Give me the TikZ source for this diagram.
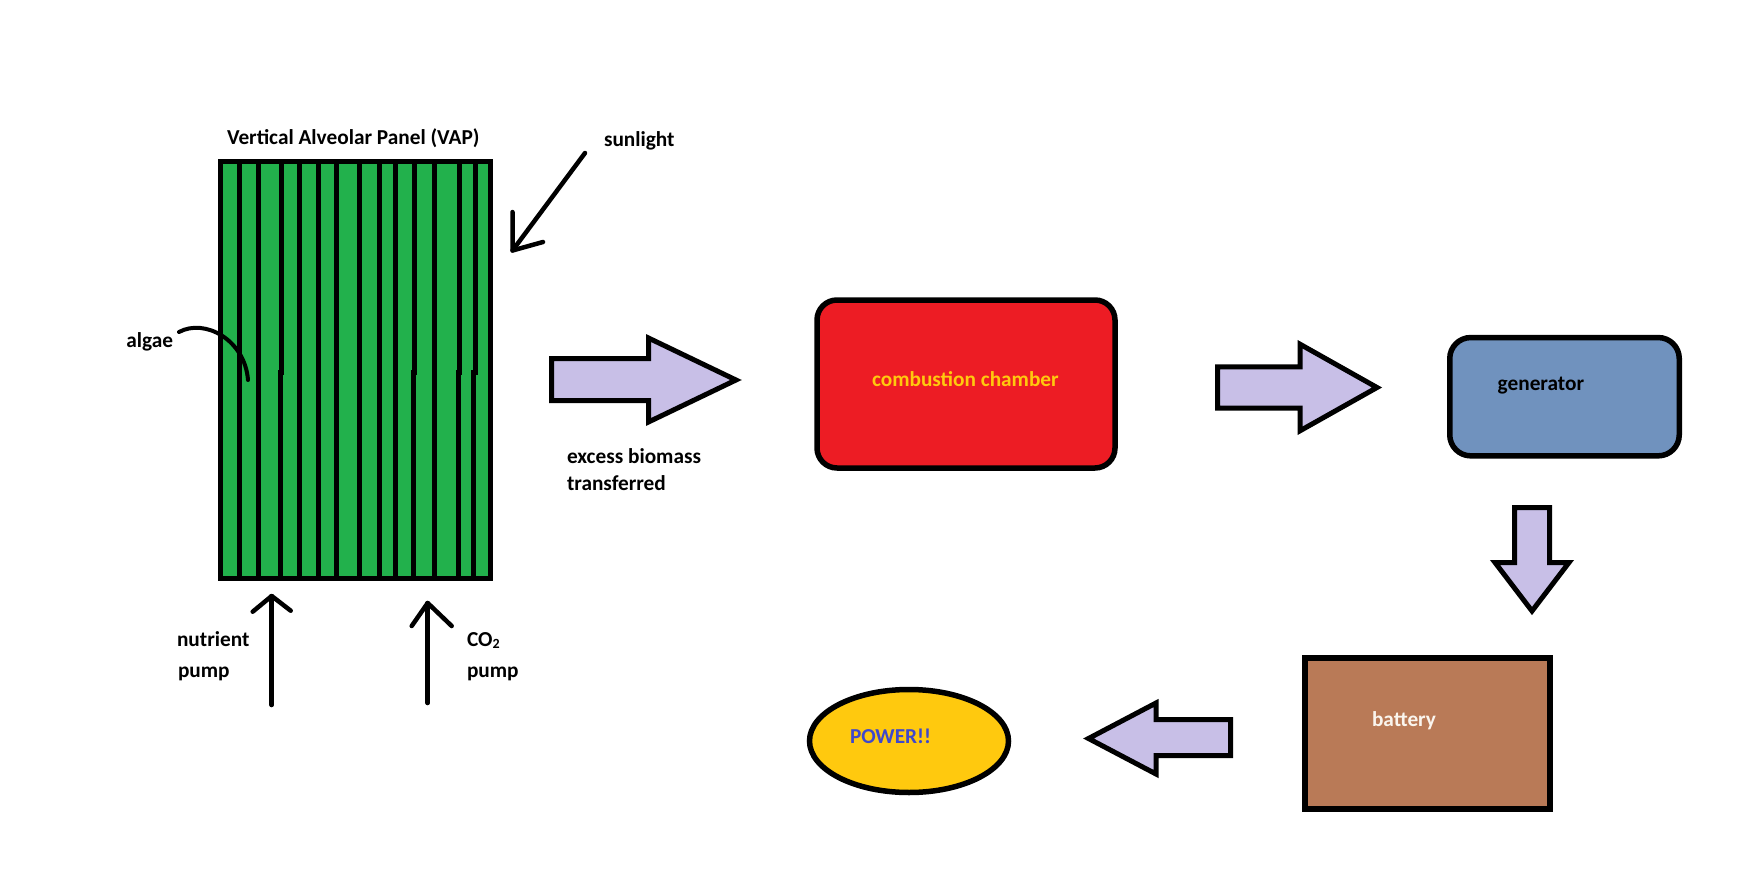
\documentclass[tikz,border=0pt]{standalone}
\usepackage{fontspec}
\setmainfont{Carlito}
\usetikzlibrary{shapes.geometric}
\definecolor{vapgreen}{HTML}{22B14C}
\definecolor{chamberred}{HTML}{ED1C24}
\definecolor{genblue}{HTML}{7092BE}
\definecolor{batbrown}{HTML}{B97A57}
\definecolor{powgold}{HTML}{FFC90E}
\definecolor{powtext}{HTML}{3F48CC}
\definecolor{arrowlav}{HTML}{C8BFE7}
\definecolor{battext}{HTML}{FAF5EE}
\begin{document}
\begin{tikzpicture}[x=1pt,y=-1pt,
  lbl/.style={inner sep=0pt, outer sep=0pt, font=\fontsize{21.3}{25}\selectfont\bfseries, anchor=base west},
  blockarrow/.style={draw=black, fill=arrowlav, line width=5pt, line join=miter},
  thinarrow/.style={draw=black, line width=4.5pt, line cap=round, line join=round},
  box/.style={draw=black, line width=5.5pt, inner sep=0pt, outer sep=0pt},
  stripe/.style={draw=black, line width=5pt}]
\useasboundingbox[fill=white] (0,0) rectangle (1762,880);

% Vertical Alveolar Panel
\node[box, line width=5pt, fill=vapgreen, minimum width=270pt, minimum height=417pt] (vap) at (355.5,370) {};
\foreach \xa/\xb in {239.5/239.5, 258.5/258.5, 281.5/280.5, 299.5/299.5, 318.5/318.5, 336.5/336.5, 359.5/359.5, 379.5/379.5, 395.5/395.5, 414.5/413, 434.5/434.5, 459.5/458, 475/473.5}{
  \draw[stripe] (\xa,161.5) -- (\xa,372) -- (\xb,372) -- (\xb,578.5);
}
\node[lbl] (vaptitle) at (227,145) {Vertical Alveolar Panel (VAP)};

% sunlight
\node[lbl] (sun) at (604,147) {sunlight};
\coordinate (sunS) at (585,153);
\coordinate (sunT) at (512.5,250.5);
\coordinate (sunA) at (512.5,212);
\coordinate (sunB) at (543,242);
\draw[thinarrow] (sunS) -- (sunT);
\draw[thinarrow] (sunA) -- (sunT) -- (sunB);

% algae
\node[lbl, anchor=base east] (algae) at (173,347) {algae};
\coordinate (algS) at (179,332);
\coordinate (algE) at (248,380);
\draw[black, line width=4pt, line cap=round] (algS) .. controls (205,318) and (245,340) .. (algE);

% nutrient pump
\coordinate (nutS) at (271.7,705);
\coordinate (nutT) at (271.7,596);
\draw[thinarrow] (nutS) -- (nutT);
\draw[thinarrow] (252.7,611.7) -- (nutT) -- (290.7,610.7);
\node[lbl] (nut1) at (177,646) {nutrient};
\node[lbl] (nut2) at (178,677) {pump};

% CO2 pump
\coordinate (coS) at (427.7,703);
\coordinate (coT) at (427.7,603);
\draw[thinarrow] (coS) -- (coT);
\draw[thinarrow] (411.7,626) -- (coT) -- (451.7,626);
\node[lbl] (co1) at (467,646) {CO{\fontsize{14}{14}\selectfont\raisebox{-2pt}{2}}};
\node[lbl] (co2) at (467,677) {pump};

% arrow 1
\draw[blockarrow] (551.5,358.5) -- (648.5,358.5) -- (648.5,338) -- (736,380) -- (648.5,422) -- (648.5,400.5) -- (551.5,400.5) -- cycle;
\node[lbl] (ex1) at (567,463) {excess biomass};
\node[lbl] (ex2) at (567,490) {transferred};

% combustion chamber
\node[box, fill=chamberred, rounded corners=20pt, minimum width=298pt, minimum height=168pt] (chamber) at (966,384) {};
\node[lbl, text=powgold] (chtext) at (872,386) {combustion chamber};

% arrow 2
\draw[blockarrow] (1217.5,366.8) -- (1300,366.8) -- (1300,344.2) -- (1377,387.5) -- (1300,430.8) -- (1300,408.2) -- (1217.5,408.2) -- cycle;

% generator
\node[box, fill=genblue, rounded corners=21pt, minimum width=229.5pt, minimum height=118.3pt] (gen) at (1564.5,396.7) {};
\node[lbl, text=black] (gentext) at (1497.7,390.7) {generator};

% down arrow
\draw[blockarrow] (1514.5,507.5) -- (1549.5,507.5) -- (1549.5,562.5) -- (1569,562.5) -- (1532,611) -- (1495,562.5) -- (1514.5,562.5) -- cycle;

% battery
\node[box, fill=batbrown, minimum width=245pt, minimum height=151pt] (bat) at (1427.5,733.5) {};
\node[lbl, text=battext] (battext) at (1372,726) {battery};

% left arrow
\draw[blockarrow] (1230.5,719.5) -- (1156,719.5) -- (1156,703) -- (1088.5,738.5) -- (1156,774) -- (1156,755.5) -- (1230.5,755.5) -- cycle;

% POWER
\node[box, ellipse, fill=powgold, minimum width=199pt, minimum height=103pt] (power) at (909,741) {};
\node[lbl, text=powtext] (powtext) at (850,743) {POWER!!};
\end{tikzpicture}
\end{document}
